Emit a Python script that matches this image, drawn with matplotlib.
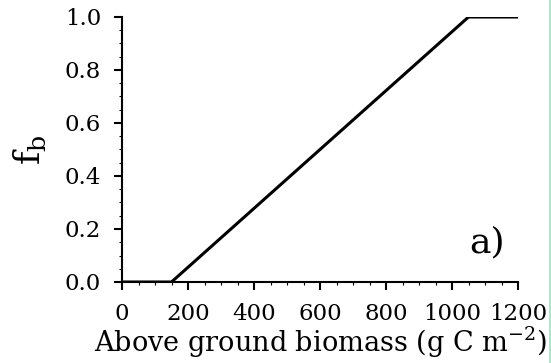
import matplotlib
matplotlib.use("Agg")
import matplotlib.pyplot as plt
from matplotlib.lines import Line2D
from matplotlib.ticker import MultipleLocator

# above ground biomass (g C m-2) and fraction f_b
biomass = [0, 150, 1050, 1200]
fb = [0.0, 0.0, 1.0, 1.0]

xticks = [0, 200, 400, 600, 800, 1000, 1200]
yticks = [0.0, 0.2, 0.4, 0.6, 0.8, 1.0]

plt.rcParams['font.family'] = 'DejaVu Serif'

fig = plt.figure(figsize=(5.51, 3.63), dpi=100)
ax = fig.add_axes([122 / 551, 1 - 282 / 363, 396 / 551, 265 / 363])

ax.plot(biomass, fb, color='black', lw=2.2, solid_joinstyle='miter')

ax.set_xlim(0, 1200)
ax.set_ylim(0, 1.0)
ax.set_xticks(xticks)
ax.set_yticks(yticks)
ax.set_yticklabels([f"{v:.1f}" for v in yticks])
ax.xaxis.set_minor_locator(MultipleLocator(50))
ax.yaxis.set_minor_locator(MultipleLocator(0.05))

for s in ['top', 'right']:
    ax.spines[s].set_visible(False)
for s in ['left', 'bottom']:
    ax.spines[s].set_linewidth(1.5)

ax.tick_params(which='major', direction='out', length=6, width=1.5,
               labelsize=16.5, pad=9)
ax.tick_params(which='minor', direction='out', length=2.5, width=0.8)
ax.tick_params(axis='x', pad=9)

ax.set_xlabel("Above ground biomass (g C m$^{\\mathregular{-2}}$)",
              fontsize=19.5, labelpad=0)
ax.set_ylabel("f$_\\mathregular{b}$", fontsize=26, labelpad=12)

ax.text(1105, 0.15, "a)", fontsize=26, ha='center', va='center')

for l in ax.get_xticklabels() + ax.get_yticklabels():
    l.set_clip_on(False)

# thin border line at the right edge of the picture
fig.add_artist(Line2D([0.9985, 0.9985], [0, 1], color='#a8dcc0', lw=1.2,
                      transform=fig.transFigure))

fig.savefig("out.png", dpi=100)
